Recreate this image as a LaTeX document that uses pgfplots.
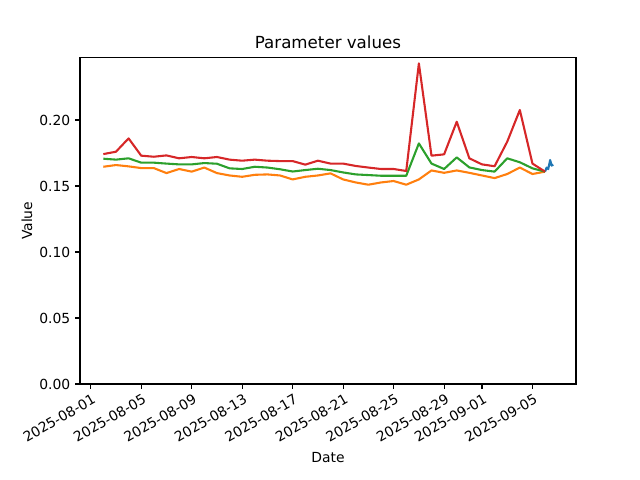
\documentclass[border=0pt]{standalone}
\usepackage{fontspec}
\setmainfont{DejaVu Sans}
\usepackage{pgfplots}
\pgfplotsset{compat=1.18}
\definecolor{tabblue}{HTML}{1F77B4}
\definecolor{taborange}{HTML}{FF7F0E}
\definecolor{tabgreen}{HTML}{2CA02C}
\definecolor{tabred}{HTML}{D62728}
\begin{document}
\begin{tikzpicture}
\useasboundingbox (-57.6pt,-69.12pt) rectangle (403.2pt,276.48pt);
\begin{axis}[
  at={(0,0)}, anchor=south west,
  scale only axis, width=357.12pt, height=235.0pt,
  xmin=-0.85, xmax=38.45, ymin=0, ymax=0.2473,
  axis line style={line width=0.8pt},
  tick align=outside, major tick length=3.5pt,
  every tick/.style={black, line width=0.8pt},
  xtick pos=bottom, ytick pos=left,
  xtick={0,4,8,12,16,20,24,28,31,35},
  xticklabels={2025-08-01,2025-08-05,2025-08-09,2025-08-13,2025-08-17,2025-08-21,2025-08-25,2025-08-29,2025-09-01,2025-09-05},
  xticklabel style={rotate=30, anchor=north east, font=\fontsize{10}{12}\selectfont, inner sep=1pt, yshift=-2pt},
  ytick={0,0.05,0.10,0.15,0.20},
  yticklabel style={font=\fontsize{10}{12}\selectfont, /pgf/number format/.cd, fixed, fixed zerofill, precision=2, assume math mode=true},
  scaled y ticks=false,
  xlabel={Date}, ylabel={Value},
  xlabel style={at={(axis description cs:0.5,0)}, anchor=center, yshift=-52.6pt, font=\fontsize{10}{12}\selectfont},
  ylabel style={at={(axis description cs:0,0.5)}, anchor=center, xshift=0pt, font=\fontsize{10}{12}\selectfont},
  every axis y label/.append style={at={(axis description cs:-0.107,0.5)}, rotate=0},
  title={Parameter values},
  title style={at={(axis description cs:0.5,1)}, anchor=center, yshift=4.7pt, font=\fontsize{12}{14}\selectfont},
  clip=true,
]
\addplot[tabblue, line width=1.5pt, line join=round] coordinates {
(36.0,0.1609) (36.12,0.1640) (36.25,0.1628) (36.4,0.1697) (36.52,0.1655) (36.65,0.1662)
};
\addplot[taborange, line width=1.5pt, line join=round] coordinates {
(1,0.1646) (2,0.1659) (3,0.1649) (4,0.1636) (5,0.1636) (6,0.1598) (7,0.1629) (8,0.1609) (9,0.1640) (10,0.1598)
(11,0.1580) (12,0.1570) (13,0.1585) (14,0.1588) (15,0.1580) (16,0.1550) (17,0.1570) (18,0.1580) (19,0.1596) (20,0.1550)
(21,0.1527) (22,0.1510) (23,0.1527) (24,0.1538) (25,0.1510) (26,0.1550) (27,0.1618) (28,0.1600) (29,0.1618) (30,0.1600)
(31,0.1580) (32,0.1560) (33,0.1591) (34,0.1640) (35,0.1591) (36,0.1609)
};
\addplot[tabgreen, line width=1.5pt, line join=round] coordinates {
(1,0.1707) (2,0.1700) (3,0.1710) (4,0.1677) (5,0.1677) (6,0.1670) (7,0.1664) (8,0.1664) (9,0.1674) (10,0.1669)
(11,0.1634) (12,0.1629) (13,0.1646) (14,0.1640) (15,0.1627) (16,0.1610) (17,0.1621) (18,0.1631) (19,0.1621) (20,0.1603)
(21,0.1588) (22,0.1583) (23,0.1578) (24,0.1578) (25,0.1578) (26,0.1823) (27,0.1670) (28,0.1629) (29,0.1717) (30,0.1641)
(31,0.1621) (32,0.1609) (33,0.1710) (34,0.1680) (35,0.1634) (36,0.1609)
};
\addplot[tabred, line width=1.5pt, line join=round] coordinates {
(1,0.1742) (2,0.1760) (3,0.1861) (4,0.1730) (5,0.1722) (6,0.1732) (7,0.1710) (8,0.1720) (9,0.1710) (10,0.1720)
(11,0.1700) (12,0.1692) (13,0.1700) (14,0.1692) (15,0.1689) (16,0.1689) (17,0.1662) (18,0.1692) (19,0.1670) (20,0.1670)
(21,0.1652) (22,0.1640) (23,0.1629) (24,0.1629) (25,0.1614) (26,0.2429) (27,0.1730) (28,0.1740) (29,0.1987) (30,0.1710)
(31,0.1664) (32,0.1650) (33,0.1836) (34,0.2076) (35,0.1670) (36,0.1609)
};
\end{axis}
\end{tikzpicture}
\end{document}
